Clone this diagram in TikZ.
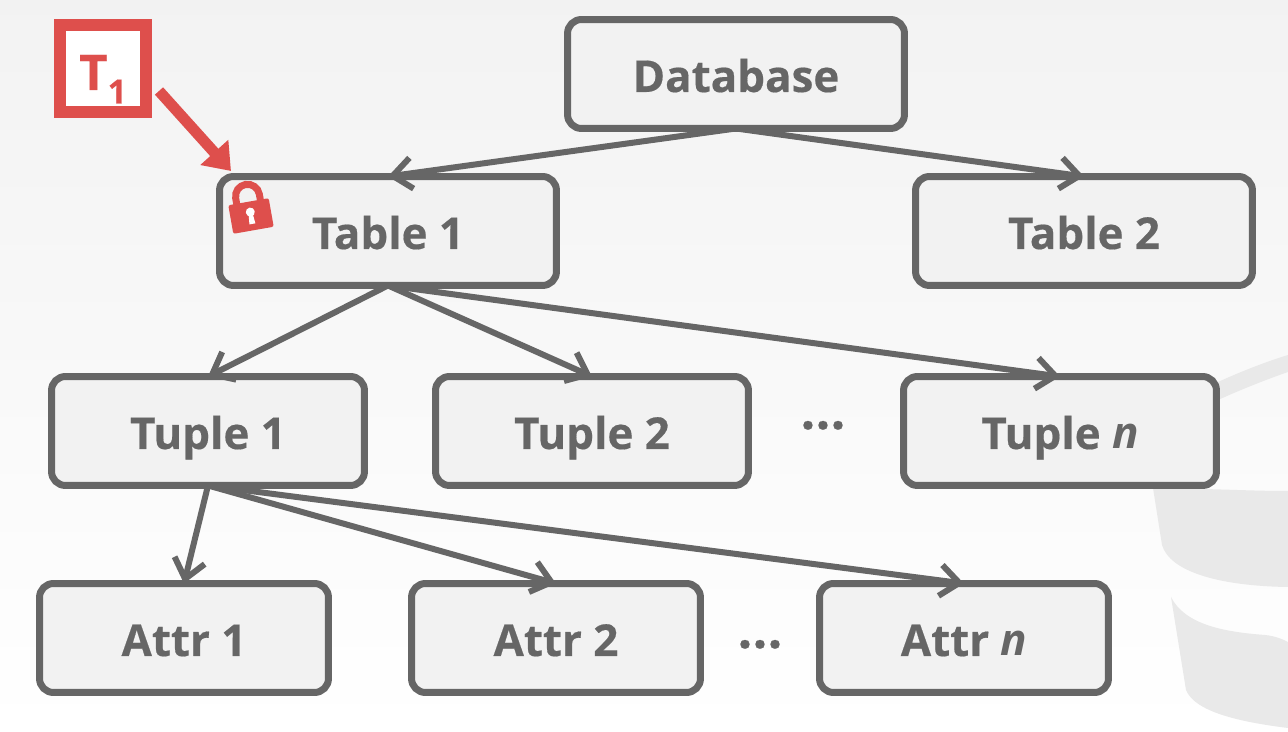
\documentclass[tikz,border=0pt]{standalone}
\usepackage{fontspec}
\setmainfont[BoldFeatures={FakeBold=0.4}]{Open Sans}
\usetikzlibrary{arrows.meta, positioning}
\definecolor{boxgray}{HTML}{666666}
\definecolor{boxfill}{HTML}{F2F2F2}
\definecolor{lockred}{HTML}{DE4F4C}
\definecolor{logogray}{HTML}{E9E9E9}
\tikzset{
	levelbox/.style={draw=boxgray, fill=boxfill, line width=0.14cm, rounded corners=0.28cm, outer sep=0pt, minimum height=2.18cm, text=boxgray, text height=0.92cm, text depth=0.2cm, font=\fontsize{25}{30}\selectfont\bfseries},
	tablebox/.style={levelbox, minimum width=6.74cm},
	tuplebox/.style={levelbox, minimum width=6.26cm},
	attrbox/.style={levelbox, minimum width=5.78cm},
	link/.style={draw=boxgray, line width=0.12cm, -{Straight Barb[length=0.38cm, width=0.62cm, line width=0.12cm]}},
	dots/.style={text=boxgray, inner sep=0pt, anchor=base, font=\fontsize{30}{30}\selectfont\bfseries}
}
\begin{document}
\begin{tikzpicture}[x=0.02cm, y=-0.02cm]
	\useasboundingbox (0,0) rectangle (1288,732);
	\fill[top color=black!5, bottom color=white] (0,0) rectangle (1288,732);
	\fill[logogray] (1218,382) .. controls (1240,372) and (1265,362) .. (1288,355) -- (1288,372) .. controls (1265,380) and (1240,390) .. (1218,400) --cycle;
	\fill[logogray] (1153,488) -- (1162,545) .. controls (1170,572) and (1220,586) .. (1288,587) -- (1288,491) .. controls (1250,491) and (1225,489) .. (1153,488) --cycle;
	\fill[logogray] (1171,597) .. controls (1185,625) and (1225,632) .. (1265,635) .. controls (1275,636) and (1282,639) .. (1288,642) -- (1288,728) .. controls (1240,722) and (1195,712) .. (1186,690) --cycle;
	\node[tablebox] (database) at (736,74) {Database};
	\node[tablebox] (table1) at (388,231) {Table 1};
	\node[tablebox] (table2) at (1084,231) {Table 2};
	\node[tuplebox] (tuple1) at (208,431) {Tuple 1};
	\node[tuplebox] (tuple2) at (592,431) {Tuple 2};
	\node[tuplebox] (tuplen) at (1060,431) {Tuple \textit{n}};
	\node[attrbox] (attr1) at (184,638) {Attr 1};
	\node[attrbox] (attr2) at (556,638) {Attr 2};
	\node[attrbox] (attrn) at (964,638) {Attr \textit{n}};
	\node[dots] (tupledots) at (823,429) {...};
	\node[dots] (attrdots) at (760,648) {...};
	\draw[link] (database.south) -- (table1.north);
	\draw[link] (database.south) -- (table2.north);
	\draw[link] (table1.south) -- (tuple1.north);
	\draw[link] (table1.south) -- (tuple2.north);
	\draw[link] (table1.south) -- (tuplen.north);
	\draw[link] (tuple1.south) -- (attr1.north);
	\draw[link] (tuple1.south) -- (attr2.north);
	\draw[link] (tuple1.south) -- (attrn.north);
	\node[draw=lockred, fill=white, line width=0.24cm, outer sep=0pt, minimum size=1.74cm, inner sep=0pt, text=lockred, text height=1.06cm, text depth=0.2cm, font=\fontsize{28}{30}\selectfont\bfseries] (t1) at (103,68.5) {T\raisebox{-0.27cm}{\fontsize{19}{20}\selectfont 1}};
	\coordinate (lockstart) at (159,91);
	\coordinate (lockend) at (231,171);
	\draw[lockred, line width=0.22cm, -{Triangle[length=0.5cm, width=0.72cm]}] (lockstart) -- (lockend);
	\begin{scope}[shift={(251,216)}, rotate=10]
		\draw[lockred, line width=0.14cm] (-12,-12) -- (-12,-20) arc[start angle=180, end angle=360, radius=12] -- (12,-12);
		\fill[lockred, rounded corners=0.04cm] (-20.5,-14.5) rectangle (20.5,14.5);
		\fill[white] (0,-4) circle[radius=4.5];
		\fill[white] (-2,-3) -- (2,-3) -- (3,8) -- (-3,8) --cycle;
	\end{scope}
\end{tikzpicture}
\end{document}
